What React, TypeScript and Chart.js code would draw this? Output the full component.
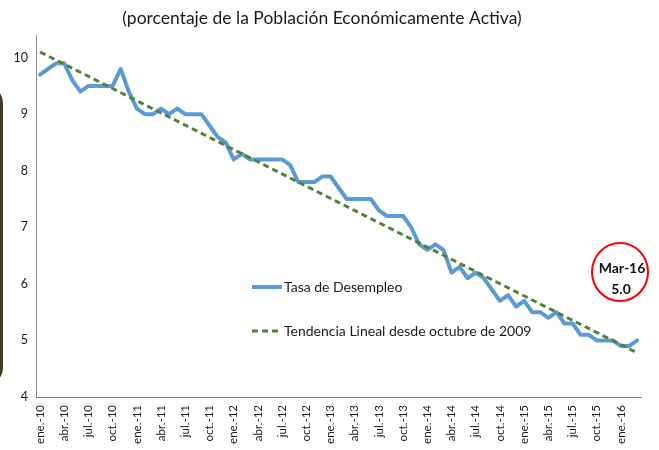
import React, { useEffect, useRef } from 'react';
import { Chart, registerables } from 'chart.js';

Chart.register(...registerables);

const monthNames = ['ene.', 'feb.', 'mar.', 'abr.', 'may.', 'jun.', 'jul.', 'ago.', 'sep.', 'oct.', 'nov.', 'dic.'];
const yearSuffixes = ['10', '11', '12', '13', '14', '15', '16'];
const lastMonthOf2016 = 3;

// Tasa de desempleo mensual (ene.-10 .. mar.-16)
const rate2010 = [9.7, 9.8, 9.9, 9.9, 9.6, 9.4, 9.5, 9.5, 9.5, 9.5, 9.8, 9.4];
const rate2011 = [9.1, 9.0, 9.0, 9.1, 9.0, 9.1, 9.0, 9.0, 9.0, 8.8, 8.6, 8.5];
const rate2012 = [8.2, 8.3, 8.2, 8.2, 8.2, 8.2, 8.2, 8.1, 7.8, 7.8, 7.8, 7.9];
const rate2013 = [7.9, 7.7, 7.5, 7.5, 7.5, 7.5, 7.3, 7.2, 7.2, 7.2, 7.0, 6.7];
const rate2014 = [6.6, 6.7, 6.6, 6.2, 6.3, 6.1, 6.2, 6.1, 5.9, 5.7, 5.8, 5.6];
const rate2015 = [5.7, 5.5, 5.5, 5.4, 5.5, 5.3, 5.3, 5.1, 5.1, 5.0, 5.0, 5.0];
const rate2016 = [4.9, 4.9, 5.0];

// Tendencia lineal: valores en el primer y último mes
const trendStart = 10.1;
const trendEnd = 4.78;

const yTicks = [4, 5, 6, 7, 8, 9, 10];

const titleText = '(porcentaje de la Población Económicamente Activa)';
const seriesLabel = 'Tasa de Desempleo';
const trendLabel = 'Tendencia Lineal desde octubre de 2009';
const calloutLabel = 'Mar-16';
const calloutValue = '5.0';

const categories: string[] = [];
yearSuffixes.forEach((yy, yi) => {
  const n = yi === yearSuffixes.length - 1 ? lastMonthOf2016 : 12;
  for (let m = 0; m < n; m++) categories.push(`${monthNames[m]}-${yy}`);
});
const unemployment = [...rate2010, ...rate2011, ...rate2012, ...rate2013, ...rate2014, ...rate2015, ...rate2016];

const FONT = 'Lato, "Open Sans", sans-serif';
const BLUE = '#5B9BD5';
const GREEN = '#538135';

const overlayPlugin = {
  id: 'overlay',
  afterDraw(chart: any) {
    const { ctx } = chart;
    ctx.save();
    // title
    ctx.fillStyle = '#1a1a1a';
    ctx.font = `17.5px ${FONT}`;
    ctx.textAlign = 'center';
    ctx.textBaseline = 'middle';
    ctx.fillText(titleText, 322, 18);

    // left panel border
    ctx.strokeStyle = '#403a22';
    ctx.lineWidth = 3;
    ctx.beginPath();
    (ctx as any).roundRect(-40, 87, 41.5, 297, 16);
    ctx.stroke();

    // legend
    ctx.textAlign = 'left';
    ctx.font = `14px ${FONT}`;
    ctx.lineCap = 'butt';
    ctx.strokeStyle = BLUE;
    ctx.lineWidth = 4;
    ctx.setLineDash([]);
    ctx.beginPath();
    ctx.moveTo(252, 287);
    ctx.lineTo(282, 287);
    ctx.stroke();
    ctx.fillStyle = '#1a1a1a';
    ctx.fillText(seriesLabel, 284, 287);

    ctx.strokeStyle = GREEN;
    ctx.lineWidth = 3;
    ctx.setLineDash([6, 4]);
    ctx.beginPath();
    ctx.moveTo(252, 331);
    ctx.lineTo(282, 331);
    ctx.stroke();
    ctx.setLineDash([]);
    ctx.fillText(trendLabel, 284, 331);

    // callout circle
    ctx.beginPath();
    ctx.ellipse(620, 272, 28, 29, 0, 0, Math.PI * 2);
    ctx.fillStyle = '#ffffff';
    ctx.fill();
    ctx.strokeStyle = '#ff0000';
    ctx.lineWidth = 2;
    ctx.stroke();
    ctx.fillStyle = '#111111';
    ctx.textAlign = 'center';
    ctx.font = `bold 14px ${FONT}`;
    ctx.fillText(calloutLabel, 622, 268);
    ctx.fillText(calloutValue, 621, 289);
    ctx.restore();
  },
};

export default function App() {
  const ref = useRef<HTMLCanvasElement>(null);
  useEffect(() => {
    if (!ref.current) return;
    const chart = new Chart(ref.current, {
      type: 'line',
      data: {
        labels: categories,
        datasets: [
          {
            label: seriesLabel,
            data: unemployment,
            borderColor: BLUE,
            borderWidth: 4,
            pointRadius: 0,
            tension: 0,
            borderJoinStyle: 'round',
            borderCapStyle: 'round',
            order: 1,
          },
          {
            label: trendLabel,
            data: [
              { x: categories[0], y: trendStart },
              { x: categories[categories.length - 1], y: trendEnd },
            ],
            borderColor: GREEN,
            borderWidth: 3,
            borderDash: [6, 4],
            pointRadius: 0,
            tension: 0,
            order: 0,
          },
        ],
      },
      options: {
        responsive: false,
        maintainAspectRatio: false,
        animation: false,
        layout: { padding: { top: 35, right: 14, left: 0, bottom: 0 } },
        plugins: {
          legend: { display: false },
          tooltip: { enabled: false },
          title: { display: false },
        },
        scales: {
          x: {
            type: 'category',
            offset: true,
            grid: { display: false, drawTicks: false },
            border: { display: true, color: '#868686', width: 1 },
            ticks: {
              autoSkip: false,
              maxRotation: 90,
              minRotation: 90,
              padding: 8,
              color: '#1a1a1a',
              font: { family: FONT, size: 11.5 },
              callback: (_v: any, i: number) => (i % 3 === 0 ? categories[i] : ''),
            },
            afterFit: (s: any) => {
              s.height = 53;
            },
          },
          y: {
            min: 4,
            max: 10.4,
            grid: { display: false, drawTicks: false },
            border: { display: true, color: '#868686', width: 1 },
            afterBuildTicks: (s: any) => {
              s.ticks = yTicks.map((v) => ({ value: v }));
            },
            ticks: {
              padding: 8,
              color: '#1a1a1a',
              font: { family: FONT, size: 12.5 },
            },
            afterFit: (s: any) => {
              s.width = 36;
            },
          },
        },
      },
      plugins: [overlayPlugin],
    } as any);
    return () => chart.destroy();
  }, []);
  return (
    <canvas
      ref={ref}
      width={659}
      height={450}
      style={{ position: 'absolute', left: 0, top: 0, display: 'block', background: '#fff' }}
    />
  );
}
